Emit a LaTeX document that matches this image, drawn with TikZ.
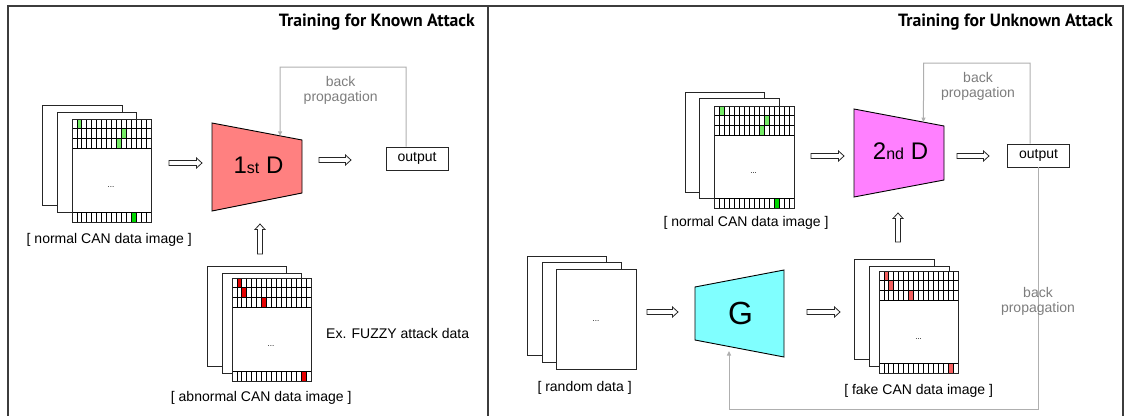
\documentclass[tikz,border=0pt]{standalone}
\usepackage{fontspec}
\setmainfont{Liberation Sans}
\newfontfamily\titlefont{PT Sans}
\usetikzlibrary{arrows.meta,calc}
\definecolor{framec}{RGB}{60,60,60}
\definecolor{bpgray}{RGB}{175,175,175}
\definecolor{bptext}{RGB}{125,125,125}
\definecolor{dred}{RGB}{255,128,128}
\definecolor{dmag}{RGB}{255,128,255}
\definecolor{gcyan}{RGB}{128,255,255}
\definecolor{greenA}{RGB}{115,235,100}
\definecolor{greenB}{RGB}{0,215,0}
\definecolor{redA}{RGB}{230,0,0}
\definecolor{redB}{RGB}{245,95,95}
% grid on the front sheet: x0,y0,x1,y1,top colour,bottom colour,row/col list,bottom col
\newcommand{\cangrid}[8]{%
  \pgfmathsetmacro\cw{(#3-#1)/16}%
  \foreach \r/\c in {#7} {\fill[#5] ({#1+\c*\cw},{#2+\r*9.7}) rectangle ++(\cw,9.7);}%
  \fill[#6] ({#1+#8*\cw},{#4-9.7}) rectangle ++(\cw,9.7);%
  \foreach \i in {1,...,15} {\draw[gridst] ({#1+\i*\cw},#2) -- ++(0,29.1);
    \draw[gridst] ({#1+\i*\cw},#4) -- ++(0,-9.7);}%
  \foreach \j in {1,2,3} {\draw[gridst] (#1,{#2+\j*9.7}) -- (#3,{#2+\j*9.7});}%
  \draw[gridst] (#1,{#4-9.7}) -- (#3,{#4-9.7});%
  \draw[sheetst,fill=none] (#1,#2) rectangle (#3,#4);%
}
\begin{document}
\begin{tikzpicture}[x=1pt,y=-1pt,
  sheetst/.style={draw=black!85, fill=white, line width=0.9pt},
  gridst/.style={draw=black, line width=0.8pt},
  lbl/.style={font=\fontsize{14}{15}\selectfont, inner sep=0pt},
  bplbl/.style={lbl, text=bptext, align=center},
  dotst/.style={font=\fontsize{8}{8}\selectfont, inner sep=0pt},
  titlest/.style={font=\titlefont\bfseries\fontsize{17.7}{19}\selectfont, inner sep=0pt},
  trap/.style={draw=black, line width=0.9pt},
  outbox/.style={draw=black!85, line width=0.9pt, minimum width=62pt, minimum height=23pt, inner sep=0pt, font=\fontsize{14}{15}\selectfont},
  bpline/.style={draw=bpgray, line width=1pt},
  bparrow/.style={bpline, -{Triangle[length=4.5pt,width=4pt]}},
  framest/.style={draw=framec, line width=2pt},
  hollowright/.style={draw=black!85, line width=0.8pt, fill=white, to path={
    let \p1=(\tikztostart), \p2=(\tikztotarget) in
    (\x1,\y1+2.5pt) -- (\x2-5.5pt,\y1+2.5pt) -- (\x2-5.5pt,\y1+5pt) -- (\x2,\y1)
    -- (\x2-5.5pt,\y1-5pt) -- (\x2-5.5pt,\y1-2.5pt) -- (\x1,\y1-2.5pt) -- cycle}},
  hollowup/.style={draw=black!85, line width=0.8pt, fill=white, to path={
    let \p1=(\tikztostart), \p2=(\tikztotarget) in
    (\x1+2.5pt,\y1) -- (\x1+2.5pt,\y2-5.5pt) -- (\x1+5pt,\y2-5.5pt) -- (\x1,\y2)
    -- (\x1-5pt,\y2-5.5pt) -- (\x1-2.5pt,\y2-5.5pt) -- (\x1-2.5pt,\y1) -- cycle}}
]
\useasboundingbox (0,0) rectangle (1124,415);
\clip (0,0) rectangle (1124,415);

% ---------- frame ----------
\coordinate (fTL) at (8,6); \coordinate (fTR) at (1123,6);
\coordinate (fBL) at (8,420); \coordinate (fBR) at (1123,420);
\coordinate (divT) at (487.5,6); \coordinate (divB) at (487.5,420);
\draw[framest] (fBL) -- (fTL) -- (fTR) -- (fBR);
\draw[framest] (divT) -- (divB);

\node[titlest, anchor=base east] (t1) at (475,27) {Training for Known Attack};
\node[titlest, anchor=base east] (t2) at (1113,27) {Training for Unknown Attack};

% ---------- left: normal stack ----------
\draw[sheetst] (42,105) rectangle (122,205);
\draw[sheetst] (57,112) rectangle (136,212);
\draw[sheetst] (72,119) rectangle (151,222);
\cangrid{72}{119}{151}{222}{greenA}{greenB}{0/1,1/10,2/9}{12}
\node[dotst] (ldots1) at (111,187) {...};
\node[lbl] (lnormal) at (109.2,239.6) {[ normal CAN data image ]};

% ---------- left: abnormal stack ----------
\draw[sheetst] (207,266) rectangle (286,366);
\draw[sheetst] (222,273) rectangle (301,373);
\draw[sheetst] (232,278) rectangle (311,381);
\cangrid{232}{278}{311}{381}{redA}{redA}{0/1,1/2,2/6}{14}
\node[dotst] (ldots2) at (271,346) {...};
\node[lbl] (labn) at (261.2,397.8) {[ abnormal CAN data image ]};
\node[lbl, anchor=base west] (lfuzzy) at (326,338.3) {Ex. FUZZY attack data};

% ---------- left: 1st D ----------
\coordinate (d1a) at (212,123); \coordinate (d1b) at (302,140);
\coordinate (d1c) at (302,193); \coordinate (d1d) at (212,211);
\draw[trap, fill=dred] (d1a) -- (d1b) -- (d1c) -- (d1d) -- cycle;
\node[inner sep=0pt] (d1) at (258.5,165) {\fontsize{24}{24}\selectfont 1{\fontsize{16}{16}\selectfont st} D};
\coordinate (d1top) at ($(d1a)!0.756!(d1b)$);

\node[outbox] (out1) at (417,158.5) {output};

\coordinate (a1s) at (169,163); \coordinate (a1e) at (202,163);
\draw[hollowright] (a1s) to (a1e);
\coordinate (a2s) at (319,160); \coordinate (a2e) at (351,160);
\draw[hollowright] (a2s) to (a2e);
\coordinate (a3s) at (260,254); \coordinate (a3e) at (260,224);
\draw[hollowup] (a3s) to (a3e);

\draw[bparrow] (out1.north -| 406,0) |- (280,67) -- (d1top);
\node[bplbl] (bp1) at (340.7,90.8) {back\\propagation};

% ---------- right: normal stack ----------
\draw[sheetst] (685,92) rectangle (764,192);
\draw[sheetst] (699,98) rectangle (779,198);
\draw[sheetst] (714,106) rectangle (794,208);
\cangrid{714}{106}{794}{208}{greenA}{greenB}{0/1,1/10,2/9}{12}
\node[dotst] (rdots1) at (753.6,172.7) {...};
\node[lbl] (rnormal) at (746,222.5) {[ normal CAN data image ]};

% ---------- right: random stack ----------
\draw[sheetst] (527,256) rectangle (606,355);
\draw[sheetst] (542,262) rectangle (621,362);
\draw[sheetst] (556,269) rectangle (636,369);
\node[dotst] (rdots2) at (596,321) {...};
\node[lbl] (rrand) at (584.6,387.8) {[ random data ]};

% ---------- right: fake stack ----------
\draw[sheetst] (854,259) rectangle (934,359);
\draw[sheetst] (869,266) rectangle (949,366);
\draw[sheetst] (879,271) rectangle (958,373);
\cangrid{879}{271}{958}{373}{redB}{redB}{0/1,1/2,2/6}{14}
\node[dotst] (rdots3) at (918.6,339) {...};
\node[lbl] (rfake) at (918.6,390.5) {[ fake CAN data image ]};

% ---------- right: 2nd D ----------
\coordinate (d2a) at (854,109); \coordinate (d2b) at (944,126);
\coordinate (d2c) at (944,180); \coordinate (d2d) at (854,197);
\draw[trap, fill=dmag] (d2a) -- (d2b) -- (d2c) -- (d2d) -- cycle;
\node[inner sep=0pt] (d2) at (900.5,151) {\fontsize{24}{24}\selectfont 2{\fontsize{16}{16}\selectfont nd} D};
\coordinate (d2top) at ($(d2a)!0.772!(d2b)$);

% ---------- right: G ----------
\coordinate (ga) at (695,287); \coordinate (gb) at (784,270);
\coordinate (gc) at (784,357); \coordinate (gd) at (695,340);
\draw[trap, fill=gcyan] (ga) -- (gb) -- (gc) -- (gd) -- cycle;
\node[inner sep=0pt, font=\fontsize{32}{32}\selectfont] (g) at (740.5,313.3) {G};
\coordinate (gbot) at (729,351);

\node[outbox] (out2) at (1038.5,155.5) {output};

\coordinate (b1s) at (811,156); \coordinate (b1e) at (844,156);
\draw[hollowright] (b1s) to (b1e);
\coordinate (b2s) at (957,156); \coordinate (b2e) at (989,156);
\draw[hollowright] (b2s) to (b2e);
\coordinate (b3s) at (647,312); \coordinate (b3e) at (678,312);
\draw[hollowright] (b3s) to (b3e);
\coordinate (b4s) at (807,312); \coordinate (b4e) at (840,312);
\draw[hollowright] (b4s) to (b4e);
\coordinate (b5s) at (898,242); \coordinate (b5e) at (898,213);
\draw[hollowup] (b5s) to (b5e);

\draw[bparrow] (out2.north -| 1030,0) |- (923.5,63) -- (d2top);
\node[bplbl] (bp2) at (978,86.1) {back\\propagation};
\draw[bparrow] (out2.south -| 1038,0) |- (729,409) -- (gbot);
\node[bplbl] (bp3) at (1038,301.8) {back\\propagation};
\end{tikzpicture}
\end{document}
